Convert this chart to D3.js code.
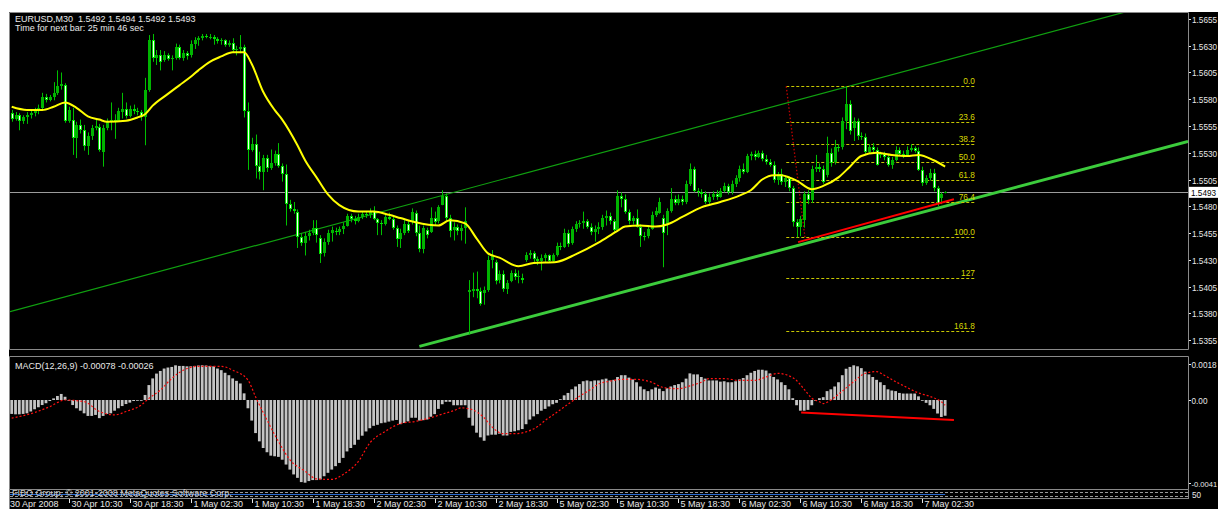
<!DOCTYPE html>
<html><head><meta charset="utf-8">
<script src="https://cdn.jsdelivr.net/npm/d3@7"></script>
<style>body{margin:0;background:#fff;overflow:hidden}svg{display:block}text{font-family:"Liberation Sans",Arial,sans-serif;white-space:pre}</style>
</head><body>
<svg id="c" width="1218" height="509"></svg>
<script>
// ---------------- DATA ----------------
const openP=[1.5567,1.5562,1.5565,1.5560,1.5563,1.5565,1.5567,1.5570,1.5572,1.5582,
1.5579,1.5582,1.5586,1.5592,1.5593,1.5560,1.5561,1.5544,1.5556,1.5551,
1.5536,1.5546,1.5553,1.5554,1.5531,1.5553,1.5560,1.5561,1.5560,1.5568,
1.5571,1.5564,1.5571,1.5569,1.5568,1.5563,1.5589,1.5635,1.5619,1.5621,
1.5617,1.5621,1.5618,1.5619,1.5629,1.5619,1.5623,1.5621,1.5632,1.5635,
1.5637,1.5639,1.5638,1.5638,1.5636,1.5634,1.5635,1.5631,1.5633,1.5626,
1.5627,1.5629,1.5569,1.5533,1.5538,1.5518,1.5512,1.5525,1.5516,1.5520,
1.5529,1.5518,1.5510,1.5482,1.5477,1.5475,1.5451,1.5446,1.5452,1.5455,
1.5460,1.5450,1.5436,1.5447,1.5455,1.5457,1.5456,1.5459,1.5462,1.5471,
1.5468,1.5466,1.5470,1.5473,1.5472,1.5476,1.5468,1.5464,1.5463,1.5470,
1.5468,1.5460,1.5449,1.5455,1.5463,1.5465,1.5474,1.5455,1.5440,1.5458,
1.5456,1.5469,1.5466,1.5481,1.5490,1.5469,1.5458,1.5461,1.5457,1.5460,
1.5400,1.5401,1.5403,1.5401,1.5399,1.5402,1.5430,1.5428,1.5411,1.5417,
1.5403,1.5410,1.5418,1.5414,1.5413,1.5430,1.5434,1.5436,1.5431,1.5429,
1.5432,1.5434,1.5429,1.5434,1.5443,1.5442,1.5455,1.5446,1.5459,1.5463,
1.5464,1.5466,1.5461,1.5456,1.5459,1.5461,1.5469,1.5471,1.5466,1.5458,
1.5490,1.5487,1.5475,1.5466,1.5469,1.5461,1.5452,1.5452,1.5459,1.5472,
1.5474,1.5469,1.5463,1.5476,1.5487,1.5483,1.5487,1.5484,1.5501,1.5515,
1.5494,1.5493,1.5491,1.5484,1.5489,1.5491,1.5489,1.5494,1.5499,1.5493,
1.5501,1.5506,1.5515,1.5512,1.5527,1.5529,1.5526,1.5530,1.5524,1.5521,
1.5519,1.5505,1.5510,1.5503,1.5506,1.5497,1.5465,1.5461,1.5467,1.5491,
1.5486,1.5515,1.5517,1.5515,1.5509,1.5530,1.5521,1.5535,1.5535,1.5560,
1.5576,1.5553,1.5560,1.5546,1.5545,1.5531,1.5535,1.5533,1.5528,1.5529,
1.5526,1.5519,1.5523,1.5533,1.5529,1.5528,1.5533,1.5534,1.5532,1.5514,
1.5502,1.5506,1.5511,1.5497,1.5488,1.5492];
const highP=[1.5570,1.5568,1.5567,1.5565,1.5568,1.5570,1.5572,1.5575,1.5586,1.5585,
1.5584,1.5596,1.5607,1.5605,1.5595,1.5573,1.5572,1.5559,1.5561,1.5556,
1.5549,1.5556,1.5561,1.5557,1.5556,1.5562,1.5577,1.5566,1.5572,1.5586,
1.5577,1.5574,1.5575,1.5572,1.5570,1.5600,1.5640,1.5641,1.5626,1.5626,
1.5625,1.5623,1.5621,1.5632,1.5631,1.5626,1.5625,1.5635,1.5638,1.5639,
1.5641,1.5641,1.5641,1.5640,1.5638,1.5637,1.5636,1.5635,1.5637,1.5630,
1.5640,1.5631,1.5577,1.5544,1.5547,1.5531,1.5528,1.5528,1.5533,1.5532,
1.5539,1.5520,1.5519,1.5486,1.5484,1.5477,1.5455,1.5456,1.5458,1.5467,
1.5467,1.5453,1.5450,1.5458,1.5461,1.5460,1.5461,1.5465,1.5473,1.5473,
1.5471,1.5473,1.5475,1.5475,1.5478,1.5480,1.5469,1.5467,1.5473,1.5474,
1.5471,1.5462,1.5459,1.5467,1.5467,1.5478,1.5476,1.5462,1.5462,1.5460,
1.5479,1.5475,1.5481,1.5495,1.5492,1.5472,1.5465,1.5463,1.5463,1.5479,
1.5411,1.5418,1.5419,1.5404,1.5405,1.5434,1.5439,1.5430,1.5420,1.5420,
1.5411,1.5420,1.5421,1.5420,1.5417,1.5437,1.5439,1.5438,1.5433,1.5435,
1.5436,1.5435,1.5436,1.5446,1.5446,1.5459,1.5458,1.5461,1.5466,1.5467,
1.5475,1.5468,1.5464,1.5462,1.5465,1.5472,1.5476,1.5474,1.5468,1.5495,
1.5493,1.5491,1.5477,1.5471,1.5477,1.5463,1.5456,1.5462,1.5475,1.5479,
1.5488,1.5472,1.5478,1.5497,1.5490,1.5491,1.5490,1.5504,1.5520,1.5517,
1.5497,1.5496,1.5494,1.5492,1.5494,1.5495,1.5497,1.5502,1.5501,1.5504,
1.5509,1.5518,1.5520,1.5529,1.5531,1.5532,1.5532,1.5532,1.5528,1.5524,
1.5522,1.5512,1.5515,1.5509,1.5508,1.5499,1.5468,1.5471,1.5494,1.5495,
1.5518,1.5528,1.5520,1.5518,1.5545,1.5534,1.5542,1.5538,1.5563,1.5592,
1.5579,1.5563,1.5562,1.5549,1.5548,1.5538,1.5539,1.5535,1.5531,1.5531,
1.5528,1.5526,1.5536,1.5535,1.5532,1.5536,1.5538,1.5536,1.5535,1.5517,
1.5509,1.5515,1.5515,1.5499,1.5493,1.5494];
const lowP=[1.5559,1.5560,1.5551,1.5557,1.5557,1.5562,1.5564,1.5566,1.5570,1.5577,
1.5578,1.5579,1.5584,1.5589,1.5558,1.5558,1.5528,1.5525,1.5548,1.5532,
1.5528,1.5542,1.5551,1.5531,1.5517,1.5551,1.5551,1.5543,1.5559,1.5562,
1.5562,1.5563,1.5566,1.5565,1.5560,1.5537,1.5587,1.5615,1.5612,1.5607,
1.5615,1.5616,1.5607,1.5617,1.5617,1.5616,1.5617,1.5619,1.5627,1.5630,
1.5635,1.5637,1.5636,1.5631,1.5632,1.5631,1.5629,1.5629,1.5624,1.5621,
1.5623,1.5563,1.5514,1.5531,1.5506,1.5505,1.5495,1.5512,1.5514,1.5518,
1.5516,1.5503,1.5462,1.5475,1.5473,1.5441,1.5443,1.5434,1.5448,1.5453,
1.5446,1.5427,1.5433,1.5444,1.5447,1.5453,1.5453,1.5454,1.5461,1.5465,
1.5463,1.5465,1.5468,1.5469,1.5469,1.5467,1.5453,1.5453,1.5462,1.5467,
1.5458,1.5442,1.5441,1.5453,1.5455,1.5463,1.5452,1.5437,1.5436,1.5450,
1.5455,1.5462,1.5464,1.5481,1.5466,1.5451,1.5448,1.5453,1.5448,1.5445,
1.5360,1.5395,1.5394,1.5387,1.5388,1.5400,1.5422,1.5407,1.5408,1.5400,
1.5398,1.5409,1.5411,1.5408,1.5408,1.5428,1.5431,1.5428,1.5425,1.5420,
1.5428,1.5427,1.5428,1.5433,1.5439,1.5441,1.5442,1.5444,1.5456,1.5460,
1.5459,1.5459,1.5453,1.5447,1.5454,1.5458,1.5462,1.5463,1.5456,1.5456,
1.5479,1.5473,1.5463,1.5463,1.5460,1.5442,1.5448,1.5450,1.5458,1.5470,
1.5473,1.5423,1.5453,1.5474,1.5481,1.5481,1.5481,1.5482,1.5499,1.5493,
1.5489,1.5488,1.5482,1.5482,1.5486,1.5486,1.5488,1.5493,1.5491,1.5491,
1.5498,1.5503,1.5510,1.5511,1.5523,1.5523,1.5525,1.5522,1.5519,1.5517,
1.5502,1.5500,1.5500,1.5498,1.5494,1.5461,1.5451,1.5452,1.5460,1.5482,
1.5483,1.5512,1.5512,1.5501,1.5507,1.5517,1.5519,1.5531,1.5533,1.5552,
1.5547,1.5541,1.5542,1.5542,1.5528,1.5529,1.5529,1.5518,1.5525,1.5523,
1.5517,1.5515,1.5522,1.5527,1.5525,1.5527,1.5531,1.5530,1.5513,1.5499,
1.5500,1.5504,1.5494,1.5480,1.5482,1.5492];
const closeP=[1.5562,1.5565,1.5560,1.5563,1.5565,1.5567,1.5570,1.5572,1.5582,1.5579,
1.5582,1.5586,1.5592,1.5594,1.5560,1.5570,1.5544,1.5556,1.5551,1.5536,
1.5546,1.5553,1.5555,1.5533,1.5553,1.5560,1.5561,1.5559,1.5569,1.5571,
1.5564,1.5571,1.5569,1.5568,1.5563,1.5589,1.5635,1.5619,1.5621,1.5615,
1.5621,1.5618,1.5619,1.5629,1.5619,1.5623,1.5620,1.5632,1.5635,1.5637,
1.5639,1.5638,1.5638,1.5636,1.5634,1.5635,1.5631,1.5633,1.5626,1.5627,
1.5629,1.5569,1.5533,1.5538,1.5518,1.5512,1.5525,1.5516,1.5520,1.5529,
1.5518,1.5510,1.5482,1.5477,1.5476,1.5451,1.5446,1.5452,1.5455,1.5460,
1.5453,1.5435,1.5447,1.5455,1.5458,1.5456,1.5459,1.5462,1.5471,1.5468,
1.5466,1.5470,1.5473,1.5472,1.5476,1.5468,1.5464,1.5463,1.5470,1.5468,
1.5460,1.5449,1.5455,1.5463,1.5457,1.5475,1.5455,1.5440,1.5460,1.5453,
1.5469,1.5465,1.5479,1.5490,1.5469,1.5457,1.5461,1.5457,1.5460,1.5466,
1.5402,1.5403,1.5401,1.5389,1.5402,1.5430,1.5434,1.5410,1.5417,1.5403,
1.5408,1.5418,1.5414,1.5415,1.5411,1.5434,1.5436,1.5431,1.5429,1.5432,
1.5434,1.5429,1.5434,1.5443,1.5442,1.5455,1.5445,1.5459,1.5463,1.5464,
1.5466,1.5461,1.5456,1.5459,1.5461,1.5469,1.5471,1.5466,1.5458,1.5490,
1.5487,1.5475,1.5466,1.5469,1.5461,1.5452,1.5451,1.5459,1.5472,1.5476,
1.5484,1.5455,1.5476,1.5487,1.5483,1.5487,1.5484,1.5501,1.5515,1.5494,
1.5493,1.5491,1.5484,1.5489,1.5491,1.5489,1.5494,1.5499,1.5493,1.5501,
1.5506,1.5515,1.5512,1.5527,1.5529,1.5526,1.5530,1.5524,1.5521,1.5519,
1.5505,1.5510,1.5503,1.5506,1.5497,1.5465,1.5461,1.5468,1.5491,1.5486,
1.5515,1.5517,1.5515,1.5503,1.5530,1.5520,1.5535,1.5534,1.5560,1.5576,
1.5550,1.5560,1.5546,1.5545,1.5531,1.5535,1.5533,1.5519,1.5529,1.5526,
1.5519,1.5523,1.5533,1.5529,1.5528,1.5533,1.5534,1.5532,1.5514,1.5502,
1.5506,1.5511,1.5497,1.5482,1.5491,1.5493];

// Moving average (yellow), read at key bars
const maBars=[0,4,8,11,14,17,20,23,25,30,33,35,37,41,44,47,49,52,55,58,61,63,66,69,71,75,77,80,83,86,91,95,99,102,106,112,115,119,122,125,128,133,137,143,148,154,159,161,165,169,172,176,181,186,191,194,197,200,202,204,206,210,213,217,220,223,227,231,235,238,242,245];
const maVals=[1.5573,1.5570,1.5570,1.5573,1.5577,1.5572,1.5564,1.5561,1.5559,1.5560,1.5563,1.5566,1.5574,1.5585,1.5593,1.5601,1.5607,1.5615,1.5620,1.5624,1.5624,1.5613,1.5587,1.5570,1.5561,1.5537,1.5523,1.5507,1.5491,1.5481,1.5475,1.5475,1.5472,1.5469,1.5465,1.5462,1.5467,1.5464,1.5450,1.5436,1.5432,1.5424,1.5427,1.5428,1.5435,1.5446,1.5457,1.5461,1.5462,1.5461,1.5463,1.5470,1.5479,1.5484,1.5490,1.5495,1.5505,1.5509,1.5509,1.5507,1.5504,1.5496,1.5499,1.5507,1.5517,1.5527,1.5530,1.5528,1.5527,1.5528,1.5523,1.5517];

// MACD(12,26,9) main (histogram)
const macdHist=[-0.00069,-0.00071,-0.00071,-0.00069,-0.00066,-0.00057,-0.00046,-0.00036,-0.00025,-0.00016,
-0.00005,0.00008,0.00020,0.00030,0.00016,-0.00001,-0.00025,-0.00041,-0.00053,-0.00066,
-0.00079,-0.00079,-0.00074,-0.00090,-0.00079,-0.00069,-0.00066,-0.00053,-0.00041,-0.00030,
-0.00020,-0.00013,-0.00005,-0.00003,-0.00003,0.00025,0.00074,0.00107,0.00131,0.00144,
0.00156,0.00161,0.00164,0.00172,0.00169,0.00169,0.00167,0.00167,0.00169,0.00171,
0.00172,0.00171,0.00169,0.00167,0.00156,0.00148,0.00135,0.00123,0.00107,0.00095,
0.00082,0.00033,-0.00041,-0.00102,-0.00164,-0.00205,-0.00238,-0.00259,-0.00276,-0.00279,
-0.00282,-0.00296,-0.00320,-0.00345,-0.00369,-0.00386,-0.00407,-0.00410,-0.00402,-0.00397,
-0.00397,-0.00394,-0.00378,-0.00361,-0.00345,-0.00328,-0.00312,-0.00287,-0.00255,-0.00238,
-0.00222,-0.00197,-0.00177,-0.00156,-0.00140,-0.00128,-0.00123,-0.00115,-0.00112,-0.00107,
-0.00102,-0.00099,-0.00120,-0.00114,-0.00106,-0.00088,-0.00088,-0.00102,-0.00100,-0.00097,
-0.00083,-0.00070,-0.00044,-0.00021,-0.00009,-0.00009,-0.00026,-0.00026,-0.00026,-0.00026,
-0.00088,-0.00127,-0.00162,-0.00185,-0.00202,-0.00176,-0.00172,-0.00172,-0.00167,-0.00176,
-0.00176,-0.00158,-0.00155,-0.00150,-0.00144,-0.00120,-0.00097,-0.00081,-0.00070,-0.00053,
-0.00044,-0.00032,-0.00021,-0.00014,0.00004,0.00023,0.00035,0.00053,0.00067,0.00079,
0.00093,0.00097,0.00093,0.00097,0.00097,0.00102,0.00106,0.00097,0.00100,0.00114,
0.00123,0.00123,0.00111,0.00102,0.00088,0.00067,0.00053,0.00044,0.00053,0.00062,
0.00056,0.00044,0.00058,0.00067,0.00074,0.00079,0.00088,0.00106,0.00132,0.00127,
0.00127,0.00114,0.00106,0.00097,0.00097,0.00097,0.00091,0.00093,0.00088,0.00088,
0.00093,0.00102,0.00109,0.00123,0.00135,0.00144,0.00150,0.00150,0.00146,0.00132,
0.00114,0.00102,0.00088,0.00074,0.00053,0.00009,-0.00026,-0.00053,-0.00053,-0.00049,
-0.00026,-0.00002,0.00009,0.00014,0.00044,0.00053,0.00067,0.00088,0.00123,0.00155,
0.00164,0.00172,0.00167,0.00158,0.00141,0.00127,0.00114,0.00100,0.00088,0.00074,
0.00053,0.00047,0.00044,0.00035,0.00032,0.00032,0.00032,0.00032,0.00018,-0.00004,
-0.00014,-0.00026,-0.00044,-0.00067,-0.00084,-0.00078];
// MACD signal (red dotted), read at key bars
const sigBars=[0,6,10,14,19,23,27,30,34,36,39,42,46,49,55,58,62,64,67,70,73,77,80,84,87,91,94,98,102,106,109,113,116,118,121,124,126,129,132,135,138,140,143,146,149,152,154,157,160,164,168,171,175,178,181,183,187,191,195,198,201,204,206,208,210,212,213,215,218,221,224,227,229,232,235,238,241,244,245];
const sigVals=[-0.00090,-0.00062,-0.00033,0.00000,-0.00008,-0.00057,-0.00074,-0.00057,-0.00025,0.00008,0.00049,0.00107,0.00156,0.00167,0.00167,0.00148,0.00099,0.00016,-0.00099,-0.00205,-0.00296,-0.00353,-0.00391,-0.00394,-0.00369,-0.00304,-0.00213,-0.00156,-0.00117,-0.00106,-0.00093,-0.00070,-0.00053,-0.00039,-0.00049,-0.00088,-0.00132,-0.00167,-0.00167,-0.00158,-0.00132,-0.00102,-0.00062,-0.00021,0.00018,0.00053,0.00079,0.00093,0.00102,0.00102,0.00088,0.00062,0.00056,0.00070,0.00088,0.00106,0.00106,0.00097,0.00097,0.00114,0.00132,0.00120,0.00097,0.00053,0.00009,-0.00009,-0.00018,0.00000,0.00044,0.00091,0.00132,0.00141,0.00123,0.00091,0.00062,0.00035,0.00018,-0.00009,-0.00026];

const timeLabels=["30 Apr 10:30","30 Apr 18:30","1 May 02:30","1 May 10:30","1 May 18:30","2 May 02:30","2 May 10:30","2 May 18:30","5 May 02:30","5 May 10:30","5 May 18:30","6 May 02:30","6 May 10:30","6 May 18:30","7 May 02:30"];
const timeLabelBars=[15,31,47,63,79,95,111,127,143,159,175,191,207,223,239];
const firstTimeLabel="30 Apr 2008";
const priceTicks=[1.5655,1.5630,1.5605,1.5580,1.5555,1.5530,1.5505,1.5480,1.5455,1.5430,1.5405,1.5380,1.5355];
const macdTicks=[0.0018,0.0,-0.0041];
const macdTickLabels=["0.0018","0.00","-0.0041"];
const bidPrice=1.5493;
// drawn objects (bar index, price)
const upperChannel=[[0,1.5382],[207,1.5580]];
const lowerChannel=[[107,1.5349],[207,1.5444]];
const redTrend=[[206.4,1.54465],[247.3,1.54865]];
const fiboHigh=[203.3,1.5592], fiboLow=[208.2,1.5451], fiboEndBar=252.8;
const fiboLevels=[0,23.6,38.2,50,61.8,76.4,100,127,161.8];
const fiboLabels=["0.0","23.6","38.2","50.0","61.8","76.4","100.0","127","161.8"];
const macdRedLine=[[207.2,-0.00062],[247.3,-0.00099]];

// ---------------- DRAW ----------------
const W=1218,H=509;
const svg=d3.select("#c");
const L=9.5,R=1188.5,mTop=12.5,mBot=349.5,dTop=356.5,dBot=489.5;
svg.append("rect").attr("width",W).attr("height",H).attr("fill","#fff");
svg.append("rect").attr("x",9).attr("y",12).attr("width",W-9).attr("height",H-12).attr("fill","#000");
const defs=svg.append("defs");
defs.append("clipPath").attr("id","cm").append("rect").attr("x",10).attr("y",13).attr("width",1178).attr("height",336);
defs.append("clipPath").attr("id","cd").append("rect").attr("x",10).attr("y",357).attr("width",1178).attr("height",132);

const x=d3.scaleLinear().domain([0,245]).range([11.7,945.15]);
const y=d3.scaleLinear().domain([1.5355,1.5655]).range([340,19]);
const ym=d3.scaleLinear().domain([-0.00415,0.0018]).range([483.7,363.7]);

const frame="#8a8a8a", txt="#e8e8e8", axFont=8.2;
function hl(yy,x1,x2,c,dash){const l=svg.append("line").attr("x1",x1).attr("x2",x2).attr("y1",yy).attr("y2",yy).attr("stroke",c||frame);if(dash)l.attr("stroke-dasharray",dash);return l;}
function vl(xx,y1,y2,c){svg.append("line").attr("x1",xx).attr("x2",xx).attr("y1",y1).attr("y2",y2).attr("stroke",c||frame);}
hl(mTop,L,R);hl(mBot,L,R);vl(L,mTop,mBot);vl(R,mTop,mBot);
hl(dTop,L,R);hl(dBot,L,R);vl(L,dTop,dBot);vl(R,dTop,dBot);
vl(L,dBot,H);vl(R,dBot,499);hl(498.5,L,R);

const gm=svg.append("g").attr("clip-path","url(#cm)");
// bid line
const byr=Math.round(y(bidPrice))+0.5;
gm.append("line").attr("x1",10).attr("x2",1188).attr("y1",byr).attr("y2",byr).attr("stroke","#9c9c9c");

function ray(pts,fromStart){
  const [a,b]=pts; const s=(b[1]-a[1])/(b[0]-a[0]);
  const i0=fromStart?a[0]:x.invert(10), i1=x.invert(1188);
  return [[i0,a[1]+s*(i0-a[0])],[i1,a[1]+s*(i1-a[0])]];
}
const lineP=d3.line().x(d=>x(d[0])).y(d=>y(d[1]));
gm.append("path").attr("d",lineP(ray(upperChannel,false))).attr("stroke","#10a010").attr("stroke-width",1.2).attr("fill","none");
gm.append("path").attr("d",lineP(ray(lowerChannel,true))).attr("stroke","#3ccc3c").attr("stroke-width",3).attr("fill","none");

// fibo levels
const fr=fiboHigh[1]-fiboLow[1];
fiboLevels.forEach((lv,k)=>{
  const p=fiboHigh[1]-fr*lv/100, yy=Math.round(y(p))+0.5;
  gm.append("line").attr("x1",x(fiboHigh[0])).attr("x2",x(fiboEndBar)).attr("y1",yy).attr("y2",yy)
    .attr("stroke","#c8c800").attr("stroke-dasharray","3,2");
  gm.append("text").attr("x",x(fiboEndBar)).attr("y",yy-2.5).attr("text-anchor","end").attr("font-size",8.3)
    .attr("fill","#d8d800").text(fiboLabels[k]);
});
gm.append("path").attr("d",lineP([fiboHigh,fiboLow])).attr("stroke","#c00000").attr("stroke-width",1.3).attr("stroke-dasharray","1.5,2").attr("fill","none");

// candles
const cg=gm.append("g");
openP.forEach((o,i)=>{
  const c=closeP[i],h=highP[i],l=lowP[i];
  const cx=Math.round(x(i));
  cg.append("line").attr("x1",cx+0.5).attr("x2",cx+0.5).attr("y1",y(h)).attr("y2",y(l)).attr("stroke","#00c000");
  const top=Math.round(y(Math.max(o,c))), bot=Math.round(y(Math.min(o,c)));
  const hgt=Math.max(1,bot-top);
  if(c>=o){
    cg.append("rect").attr("x",cx-1).attr("y",top).attr("width",3).attr("height",hgt).attr("fill","#00b400");
  } else {
    cg.append("rect").attr("x",cx-1).attr("y",top).attr("width",3).attr("height",hgt).attr("fill","#00e000");
    if(hgt>2) cg.append("rect").attr("x",cx).attr("y",top+1).attr("width",1).attr("height",hgt-2).attr("fill","#f4fff4");
  }
});
// MA
gm.append("path").attr("d",d3.line().x((d,k)=>x(maBars[k])).y(d=>y(d)).curve(d3.curveMonotoneX)(maVals))
  .attr("stroke","#ffff00").attr("stroke-width",2).attr("fill","none");
// red trendline
gm.append("path").attr("d",lineP(redTrend)).attr("stroke","#ff0000").attr("stroke-width",2).attr("fill","none");

// header
svg.append("text").attr("x",15).attr("y",22).attr("font-size",9).attr("fill",txt).text("EURUSD,M30  1.5492 1.5494 1.5492 1.5493");
svg.append("text").attr("x",15).attr("y",31).attr("font-size",9).attr("fill",txt).text("Time for next bar: 25 min 46 sec");

// price axis
priceTicks.forEach(t=>{
  const yy=Math.round(y(t))+0.5;
  svg.append("line").attr("x1",1189).attr("x2",1191).attr("y1",yy).attr("y2",yy).attr("stroke",txt);
  svg.append("text").attr("x",1192).attr("y",yy+3).attr("font-size",axFont).attr("fill",txt).text(t.toFixed(4));
});
const by=y(bidPrice);
svg.append("rect").attr("x",1189).attr("y",by-5.5).attr("width",29).attr("height",11).attr("fill","#fff");
svg.append("text").attr("x",1191).attr("y",by+3.2).attr("font-size",axFont).attr("fill","#000").text(bidPrice.toFixed(4));

// MACD pane
const gd=svg.append("g").attr("clip-path","url(#cd)");
macdHist.forEach((v,i)=>{
  const y0=ym(0),y1=ym(v);
  gd.append("rect").attr("x",x(i)-1.4).attr("y",Math.min(y0,y1)).attr("width",2.8).attr("height",Math.max(0.8,Math.abs(y1-y0)))
    .attr("fill","#c4c4c4");
});
gd.append("path").attr("d",d3.line().x((d,k)=>x(sigBars[k])).y(d=>ym(d)).curve(d3.curveMonotoneX)(sigVals))
  .attr("stroke","#ff1010").attr("stroke-width",1.2).attr("stroke-dasharray","2,2").attr("fill","none");
gd.append("path").attr("d",d3.line().x(d=>x(d[0])).y(d=>ym(d[1]))(macdRedLine)).attr("stroke","#ff0000").attr("stroke-width",2).attr("fill","none");
svg.append("text").attr("x",15).attr("y",369).attr("font-size",9).attr("fill",txt).text("MACD(12,26,9) -0.00078 -0.00026");
macdTicks.forEach((t,k)=>{
  const yy=Math.round(ym(t))+0.5;
  svg.append("line").attr("x1",1189).attr("x2",1191).attr("y1",yy).attr("y2",yy).attr("stroke",txt);
  svg.append("text").attr("x",1191.5).attr("y",yy+3).attr("font-size",t<0?7.6:axFont).attr("fill",txt).text(macdTickLabels[k]);
});

// small bottom pane
hl(492.5,10,1188,"#9a9a9a","3,2");
hl(496.5,10,1188,"#9a9a9a","3,2");
svg.append("line").attr("x1",10).attr("x2",x(245)).attr("y1",494.5).attr("y2",494.5).attr("stroke","#2a6ad0");
svg.append("text").attr("x",12).attr("y",496).attr("font-size",9).attr("fill","#d0d0d0").text("FIBO Group, \u00a9 2001-2008 MetaQuotes Software Corp.");
svg.append("text").attr("x",1192).attr("y",498).attr("font-size",axFont).attr("fill",txt).text("50");

// time axis
svg.append("text").attr("x",10).attr("y",507).attr("font-size",9).attr("fill",txt).text(firstTimeLabel);
timeLabels.forEach((t,k)=>{
  const xx=Math.round(x(timeLabelBars[k]))+0.5;
  svg.append("line").attr("x1",xx).attr("x2",xx).attr("y1",499).attr("y2",503).attr("stroke",txt);
  svg.append("text").attr("x",xx+2).attr("y",507).attr("font-size",9).attr("fill",txt).text(t);
});
</script>
</body></html>
